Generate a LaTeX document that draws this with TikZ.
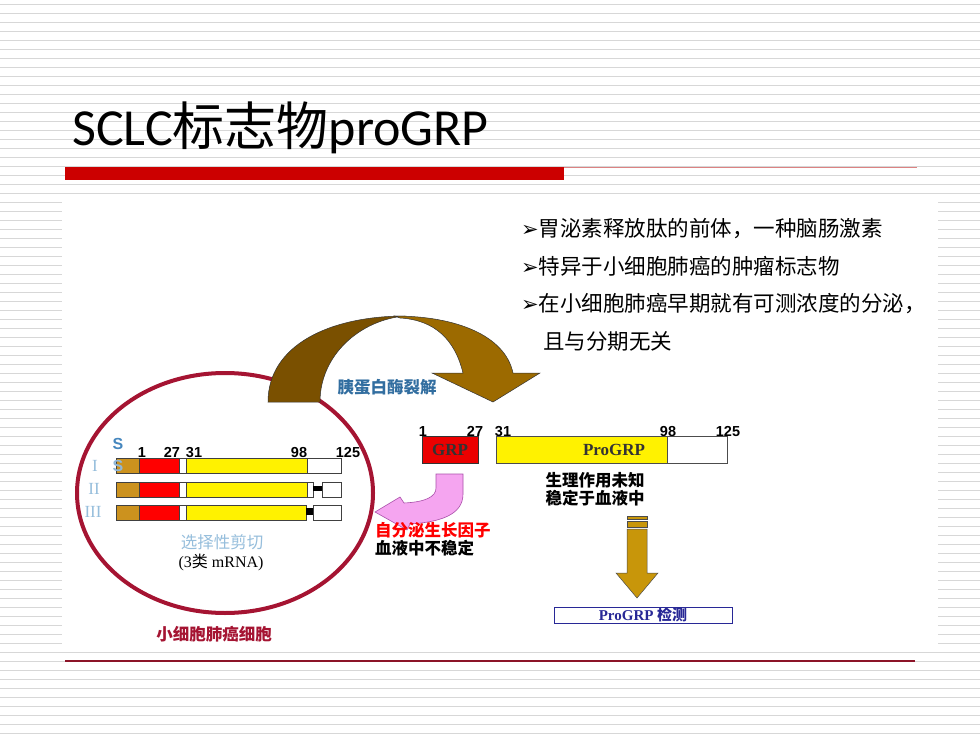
\documentclass[tikz,border=0pt]{standalone}
\usepackage{fontspec}
\setmainfont{Liberation Serif}
\newfontfamily\cjk{Noto Sans CJK SC}
\newfontfamily\calib{Carlito}
\newfontfamily\arialf{Liberation Sans}
\newfontfamily\dings{DejaVu Sans}

\definecolor{stripegray}{RGB}{215,215,215}
\definecolor{titlered}{RGB}{204,0,0}
\definecolor{linered}{RGB}{220,130,130}
\definecolor{footred}{RGB}{140,20,40}
\definecolor{cellred}{RGB}{165,20,50}
\definecolor{darkbrown}{RGB}{122,80,0}
\definecolor{lightbrown}{RGB}{156,106,0}
\definecolor{cutblue}{RGB}{50,110,160}
\definecolor{paleblue}{RGB}{150,190,220}
\definecolor{sblue}{RGB}{70,135,190}
\definecolor{gstr}{RGB}{204,146,30}
\definecolor{grpred}{RGB}{235,0,0}
\definecolor{pinkfill}{RGB}{245,165,240}
\definecolor{pinkline}{RGB}{170,80,170}
\definecolor{gold}{RGB}{200,150,10}
\definecolor{navy}{RGB}{40,40,150}

\begin{document}
\begin{tikzpicture}[x=1pt, y=-1pt]
    \tikzstyle{every node} = [inner sep=0pt]
    \tikzstyle{stripe} = [draw=stripegray, line width=0.9pt]
    \tikzstyle{seg} = [draw=black!75, line width=0.5pt]
    \tikzstyle{num} = [anchor=base, font=\arialf\bfseries\fontsize{14.5}{15}\selectfont]
    \tikzstyle{zh} = [font=\cjk\fontsize{16.5}{18}\selectfont]
    \tikzstyle{zhb} = [font=\cjk\bfseries\fontsize{16.5}{18}\selectfont]
    \tikzstyle{bullet} = [anchor=west, font=\cjk\fontsize{21.5}{24}\selectfont]
    \tikzstyle{roman} = [text=paleblue, font=\fontsize{17}{17}\selectfont]

    \useasboundingbox (0,0) rectangle (980,735);
    \fill[white] (0,0) rectangle (980,735);
    \foreach \y in {4,13,...,733} \draw[stripe] (0,\y) -- (980,\y);

    % title
    \node[anchor=base west] (title) at (72,146) {\calib\fontsize{52}{56}\selectfont SCLC{\cjk 标志物}proGRP};
    \fill[titlered] (65,167) rectangle (564,180);
    \draw[linered, line width=1.4pt] (564,167.5) -- (917,167.5);
    \fill[white] (62,197) rectangle (938,648);
    \draw[footred, line width=1.2pt] (65,661) -- (915,661);

    % bullets
    \node[bullet] (b1) at (521,229) {{\dings\fontsize{21}{21}\selectfont ➢}\hspace{0pt}胃泌素释放肽的前体，一种脑肠激素};
    \node[bullet] (b2) at (521,266) {{\dings\fontsize{21}{21}\selectfont ➢}\hspace{0pt}特异于小细胞肺癌的肿瘤标志物};
    \node[bullet] (b3) at (521,304) {{\dings\fontsize{21}{21}\selectfont ➢}\hspace{0pt}在小细胞肺癌早期就有可测浓度的分泌，};
    \node[bullet] (b4) at (543,341) {且与分期无关};

    % cell
    \draw[cellred, line width=4pt] (225,493) ellipse [x radius=148pt, y radius=120pt];
    \node[zhb, text=cellred] (cell) at (214,634) {小细胞肺癌细胞};

    % curved cleavage arrow
    \filldraw[fill=darkbrown, draw=black!80, line width=0.5pt]
        (268,402) .. controls (268,345) and (330,316) .. (405,316)
        .. controls (360,320) and (320,355) .. (320,402) -- cycle;
    \filldraw[fill=lightbrown, draw=black!80, line width=0.5pt]
        (395,316) .. controls (455,316) and (505,335) .. (513,373)
        -- (540,373) -- (493,402) -- (432,373) -- (463,373)
        .. controls (455,340) and (435,320) .. (400,318) -- cycle;
    \node[zhb, text=cutblue] (cut) at (387,387) {胰蛋白酶裂解};

    % three mRNA bars
    \foreach \y in {458,482,505} {
        \filldraw[seg, fill=gstr] (116,\y) rectangle (139,\y+15);
        \filldraw[seg, fill=red] (139,\y) rectangle (179,\y+15);
        \filldraw[seg, fill=white] (179,\y) rectangle (186,\y+15);
    }
    \filldraw[seg, fill=yellow] (186,458) rectangle (307,473);
    \filldraw[seg, fill=white] (307,458) rectangle (341,473);
    \filldraw[seg, fill=yellow] (186,482) rectangle (307,497);
    \filldraw[seg, fill=white] (307,482) rectangle (313,497);
    \fill[black] (313,486) rectangle (322,491);
    \filldraw[seg, fill=white] (322,482) rectangle (341,497);
    \filldraw[seg, fill=yellow] (186,505) rectangle (306,520);
    \fill[black] (306,508) rectangle (313,515);
    \filldraw[seg, fill=white] (313,505) rectangle (341,520);

    \node[roman] (r1) at (95,466) {I};
    \node[roman] (r2) at (94,489) {II};
    \node[roman] (r3) at (93,512) {III};
    \node[text=sblue, font=\arialf\bfseries\fontsize{16}{16}\selectfont] (s1) at (118,444) {S};
    \node[text=sblue!60, font=\arialf\bfseries\fontsize{16}{16}\selectfont] (s2) at (118,466) {S};
    \node[num] (n1) at (142,457) {1};
    \node[num] (n27) at (172,457) {27};
    \node[num] (n31) at (194,457) {31};
    \node[num] (n98) at (299,457) {98};
    \node[num] (n125) at (348,457) {125};
    \node[zh, text=paleblue] (splice) at (222,542) {选择性剪切};
    \node[font=\fontsize{16}{16}\selectfont] (mrna) at (221,562) {(3{\cjk 类} mRNA)};

    % cleaved peptide
    \node[num] (m1) at (423,436) {1};
    \node[num] (m27) at (475,436) {27};
    \node[num] (m31) at (503,436) {31};
    \node[num] (m98) at (668,436) {98};
    \node[num] (m125) at (728,436) {125};
    \node[draw=black!80, fill=grpred, minimum width=56pt, minimum height=27pt,
          font=\bfseries\fontsize{17}{17}\selectfont, text=black!80] (grp) at (450,449.5) {GRP};
    \node[draw=black!70, fill=yellow, minimum width=171pt, minimum height=27pt] (proy) at (581.5,449.5) {};
    \node[draw=black!70, fill=white, minimum width=60pt, minimum height=27pt] (prow) at (697,449.5) {};
    \node[font=\bfseries\fontsize{17}{17}\selectfont, text=black!80] (protxt) at (614,449.5) {ProGRP};
    \node[zhb] (fn1) at (595,480) {生理作用未知};
    \node[zhb] (fn2) at (595,498) {稳定于血液中};

    % pink arrow
    \filldraw[fill=pinkfill, draw=pinkline, line width=0.6pt]
        (436,474) -- (463,474) -- (463,494) .. controls (463,515) and (440,522) .. (410,524)
        -- (407,530) -- (375,512) -- (400,497) -- (404,503)
        .. controls (425,502) and (436,497) .. (436,488) -- cycle;
    \node[zhb, anchor=west, text=red] (auto) at (375,530) {自分泌生长因子};
    \node[zhb, anchor=west] (unst) at (375,548) {血液中不稳定};

    % gold arrow
    \filldraw[fill=gold, draw=black!70, line width=0.5pt] (627,516) rectangle (647,519);
    \filldraw[fill=gold, draw=black!70, line width=0.5pt] (627,521) rectangle (647,527);
    \filldraw[fill=gold, draw=black!70, line width=0.5pt]
        (627,529) -- (647,529) -- (647,573) -- (658,573) -- (637,598) -- (616,573) -- (627,573) -- cycle;
    \node[draw=navy, line width=0.8pt, minimum width=178pt, minimum height=16pt, text=navy,
          font=\bfseries\fontsize{15}{15}\selectfont] (detect) at (643,615) {ProGRP {\cjk 检测}};
\end{tikzpicture}
\end{document}
